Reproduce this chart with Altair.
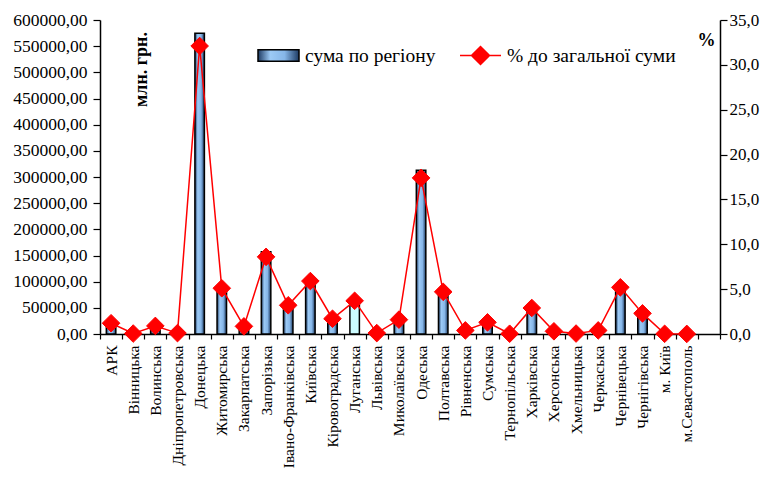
import altair as alt
import pandas as pd

regions = ["АРК", "Вінницька", "Волинська", "Дніпропетровська", "Донецька",
           "Житомирська", "Закарпатська", "Запорізька", "Івано-Франківська",
           "Київська", "Кіровоградська", "Луганська", "Львівська", "Миколаївська",
           "Одеська", "Полтавська", "Рівненська", "Сумська", "Тернопільська",
           "Харківська", "Херсонська", "Хмельницька", "Черкаська", "Чернівецька",
           "Чернігівська", "м. Київ", "м.Севастополь"]

sums = [21000, 500, 16000, 1500, 574600, 90000, 15000, 157000, 57000,
        105000, 30000, 64000, 1500, 28000, 313000, 84000, 6500, 23000, 500,
        52000, 5500, 600, 6500, 93000, 42000, 300, 200]

pcts = [1.2, 0.05, 0.9, 0.1, 32.1, 5.1, 0.85, 8.6, 3.2,
        5.9, 1.7, 3.7, 0.1, 1.6, 17.4, 4.7, 0.4, 1.3, 0.03,
        2.9, 0.3, 0.05, 0.4, 5.2, 2.3, 0.02, 0.01]

bar_series = "сума по регіону"
line_series = "% до загальної суми"
light_regions = ["Луганська"]
x_domain = regions + [" "]

left_ticks = list(range(0, 600001, 50000))
right_ticks = list(range(0, 36, 5))

df = pd.DataFrame({"region": regions, "sum": sums, "pct": pcts})
df["bar_series"] = bar_series
df["line_series"] = line_series

FONT = "Liberation Serif"

x_enc = alt.X(
    "region:N",
    sort=x_domain,
    scale=alt.Scale(domain=x_domain, paddingInner=0, paddingOuter=0),
    axis=alt.Axis(
        title=None, labelAngle=270, labelFont=FONT, labelFontSize=15.5,
        labelColor="black", labelPadding=6, labelLimit=200,
        tickBand="extent", tickSize=5, tickColor="black", tickWidth=1.2,
        domainColor="black", domainWidth=1.5, grid=False, labelOverlap=False,
    ),
)

y_left = alt.Y(
    "sum:Q",
    scale=alt.Scale(domain=[0, 600000], nice=False, zero=True),
    axis=alt.Axis(
        values=left_ticks,
        labelExpr="replace(format(datum.value, '.2f'), '.', ',')",
        labelFont=FONT, labelFontSize=17.5, labelColor="black", labelPadding=6,
        tickSize=7, tickColor="black", tickWidth=1.2,
        domainColor="black", domainWidth=1.5, grid=False,
        title="млн. грн.", titleFont=FONT, titleFontSize=18, titleFontWeight="bold",
        titleColor="black", titleAngle=270, titleX=41, titleY=49,
        titleAlign="center", titleBaseline="middle",
    ),
)

y_right = alt.Y(
    "pct:Q",
    scale=alt.Scale(domain=[0, 35], nice=False, zero=True),
    axis=alt.Axis(
        orient="right", values=right_ticks,
        labelExpr="replace(format(datum.value, '.1f'), '.', ',')",
        labelFont=FONT, labelFontSize=17, labelColor="black", labelPadding=2,
        tickSize=7, tickColor="black", tickWidth=1.2,
        domainColor="black", domainWidth=1.5, grid=False,
        title="%", titleFont=FONT, titleFontSize=18, titleFontWeight="bold",
        titleColor="black", titleAngle=0, titleX=-14, titleY=20,
        titleAlign="center", titleBaseline="middle",
    ),
)

bar_gradient = alt.Gradient(
    gradient="linear", x1=0, x2=1, y1=0, y2=0,
    stops=[
        alt.GradientStop(color="#1d3a62", offset=0),
        alt.GradientStop(color="#9ccaf6", offset=0.3),
        alt.GradientStop(color="#86b6e8", offset=0.65),
        alt.GradientStop(color="#1d3a62", offset=1),
    ],
)

bars = alt.Chart(df).transform_filter(
    {"not": {"field": "region", "oneOf": light_regions}}
).mark_bar(size=9.5, fill=bar_gradient, strokeWidth=1.5).encode(
    x=x_enc,
    y=y_left,
    stroke=alt.Stroke(
        "bar_series:N",
        scale=alt.Scale(domain=[bar_series], range=["black"]),
        legend=alt.Legend(
            title=None, orient="none", legendX=157, legendY=14, padding=0,
            symbolType="M-1,-0.28L1,-0.28L1,0.28L-1,0.28Z", symbolSize=1681,
            symbolStrokeWidth=1.5, labelFont=FONT, labelFontSize=19.5,
            labelColor="black", labelLimit=300, labelOffset=5,
        ),
    ),
)

bars_light = alt.Chart(df).transform_filter(
    {"field": "region", "oneOf": light_regions}
).mark_bar(size=9.5, fill="#ccfcff", stroke="black", strokeWidth=1.5).encode(
    x=x_enc,
    y=y_left,
)

line = alt.Chart(df).mark_line(color="red", strokeWidth=1.5).encode(
    x=x_enc,
    y=y_right,
)

points = alt.Chart(df).mark_point(
    shape="diamond", filled=True, fill="red", size=310, strokeWidth=1, opacity=1
).encode(
    x=x_enc,
    y=y_right,
    stroke=alt.Stroke(
        "line_series:N",
        scale=alt.Scale(domain=[line_series], range=["red"]),
        legend=alt.Legend(
            title=None, orient="none", legendX=359, legendY=14, padding=0,
            symbolType="M-1,0L-0.44,0L0,-0.44L0.44,0L1,0L0.44,0L0,0.44L-0.44,0Z",
            symbolSize=1681, symbolStrokeWidth=1.5, labelFont=FONT,
            labelFontSize=19.5, labelColor="black", labelLimit=300, labelOffset=5,
        ),
    ),
)

left = alt.layer(bars, bars_light)
right = alt.layer(line, points)

chart = alt.layer(left, right).resolve_scale(
    y="independent", stroke="independent"
).properties(
    width=620,
    height=314,
    autosize=alt.AutoSizeParams(type="none"),
    padding={"left": 92, "top": 12, "right": 40, "bottom": 137},
    background="white",
).configure_view(stroke=None)

chart.save("out.html", embed_options={"renderer": "svg", "actions": False})
